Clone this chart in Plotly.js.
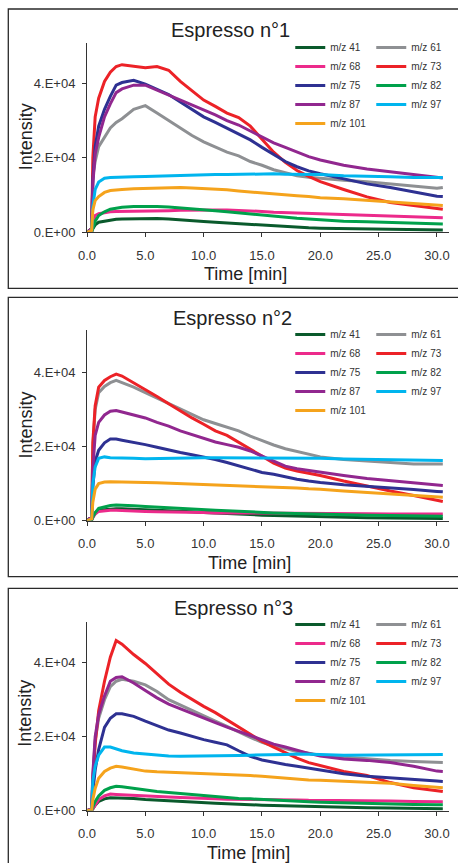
<!DOCTYPE html>
<html>
<head>
<meta charset="utf-8">
<script src="https://cdn.plot.ly/plotly-3.0.1.min.js"></script>
<style>html,body{margin:0;padding:0;background:#fff;}#chart{width:458px;height:863px;}</style>
</head>
<body>
<div id="chart"></div>
<script>
// ---------- data ----------
const time = [0, 0.4, 0.5, 0.7, 1, 1.5, 2, 2.5, 3, 4, 5, 6, 7, 8, 9, 10, 11, 12, 13, 14, 15, 16, 17, 18, 19, 20, 22, 24, 26, 28, 30, 30.5];
const seriesNames = ['m/z 41', 'm/z 61', 'm/z 68', 'm/z 73', 'm/z 75', 'm/z 82', 'm/z 87', 'm/z 97', 'm/z 101'];
const seriesColors = ['#0a5a2c', '#8e9093', '#ec2a8b', '#ec2227', '#2e3192', '#00a14b', '#91278f', '#00b5ee', '#f5a31c'];
const panelTitles = ['Espresso n°1', 'Espresso n°2', 'Espresso n°3'];
const xTickVals = [0, 5, 10, 15, 20, 25, 30];
const xTickText = ['0.0', '5.0', '10.0', '15.0', '20.0', '25.0', '30.0'];
const yTickVals = [0, 20000, 40000];
const yTickText = ['0.E+00', '2.E+04', '4.E+04'];
const xTitle = 'Time [min]';
const yTitle = 'Intensity';

// Espresso n°1
const e1_mz41  = [0, 200, 1000, 2000, 2700, 3000, 3300, 3500, 3600, 3700, 3700, 3700, 3600, 3300, 3100, 2900, 2700, 2500, 2300, 2100, 1900, 1700, 1600, 1400, 1200, 1100, 1000, 900, 800, 700, 600, 600];
const e1_mz61  = [0, 1000, 15000, 19000, 23000, 25500, 28000, 29500, 30500, 33000, 34000, 32000, 30000, 28000, 26000, 24300, 23000, 21500, 20500, 19000, 18000, 16800, 16000, 15200, 14800, 14500, 14000, 13600, 13000, 12400, 11800, 12000];
const e1_mz68  = [0, 200, 2000, 4500, 5000, 5300, 5500, 5600, 5600, 5700, 5700, 5800, 5800, 5900, 6000, 6000, 6000, 6000, 5900, 5800, 5600, 5400, 5300, 5200, 5100, 5000, 4800, 4600, 4300, 4100, 3900, 3900];
const e1_mz73  = [0, 1000, 20000, 31000, 36000, 40500, 43000, 44500, 45000, 44500, 44200, 44500, 43500, 40500, 38000, 35500, 33800, 32000, 30800, 28500, 25000, 21500, 18800, 16600, 15000, 13600, 11500, 9500, 8000, 7200, 6400, 6200];
const e1_mz75  = [0, 1000, 14000, 23000, 28500, 33000, 36500, 39500, 40200, 40800, 39800, 38500, 37000, 35000, 33000, 31000, 29500, 28000, 26500, 24800, 22800, 20800, 19000, 17600, 16500, 15700, 14300, 13000, 12000, 10800, 9700, 9600];
const e1_mz82  = [0, 200, 1000, 3000, 4500, 5500, 6200, 6500, 6700, 6900, 7000, 6900, 6800, 6600, 6300, 6000, 5800, 5500, 5200, 5000, 4700, 4400, 4100, 3800, 3600, 3400, 3000, 2800, 2600, 2400, 2200, 2200];
const e1_mz87  = [0, 1000, 13000, 21000, 25500, 31000, 34500, 37500, 38500, 39500, 39500, 38200, 36800, 35500, 34200, 33000, 31500, 30000, 28800, 27200, 25500, 24000, 22800, 21500, 20300, 19400, 18000, 17000, 16200, 15500, 14700, 14600];
const e1_mz97  = [0, 500, 7000, 11500, 13500, 14500, 14700, 14800, 14800, 14900, 15000, 15100, 15200, 15200, 15300, 15500, 15500, 15500, 15600, 15600, 15700, 15700, 15600, 15600, 15500, 15500, 15200, 15100, 14900, 14700, 14600, 14700];
const e1_mz101 = [0, 500, 6000, 8500, 9600, 10700, 11200, 11400, 11500, 11700, 11800, 11900, 12000, 12000, 11900, 11800, 11600, 11400, 11100, 10800, 10600, 10300, 10000, 9800, 9600, 9300, 9000, 8600, 8200, 7800, 7300, 7200];

// Espresso n°2
const e2_mz41  = [0, 200, 1000, 2000, 2800, 3000, 3200, 3200, 3200, 3100, 3000, 2900, 2700, 2600, 2400, 2200, 2100, 1900, 1800, 1600, 1500, 1400, 1300, 1200, 1100, 1000, 900, 800, 700, 700, 600, 600];
const e2_mz61  = [0, 1000, 20000, 30000, 34500, 36200, 37200, 37800, 37200, 36000, 34500, 33000, 31500, 30000, 28500, 27200, 26200, 25200, 24200, 22800, 21500, 20400, 19400, 18600, 17800, 17200, 16500, 16000, 15700, 15300, 15200, 15300];
const e2_mz68  = [0, 200, 800, 1800, 2500, 2700, 2800, 2800, 2700, 2600, 2500, 2400, 2400, 2300, 2200, 2200, 2100, 2100, 2000, 2000, 2000, 2000, 1900, 1900, 1900, 1900, 1900, 1900, 1800, 1800, 1800, 1800];
const e2_mz73  = [0, 1000, 21000, 31000, 36000, 37800, 38800, 39500, 39000, 37200, 35300, 33500, 31500, 29500, 27700, 26000, 24200, 23000, 21200, 19200, 17400, 15500, 14200, 13400, 12800, 12200, 10700, 9300, 8000, 6800, 5500, 5200];
const e2_mz75  = [0, 1000, 9000, 16000, 19000, 21000, 22000, 22000, 21700, 21200, 20500, 19800, 19000, 18400, 17800, 17200, 16500, 15700, 14800, 13800, 13000, 12500, 11800, 11200, 10700, 10300, 9700, 9200, 8800, 8400, 7900, 7800];
const e2_mz82  = [0, 200, 1000, 2200, 3300, 3800, 4100, 4200, 4200, 4000, 3800, 3600, 3500, 3300, 3200, 3000, 2800, 2700, 2500, 2400, 2200, 2100, 2000, 1900, 1800, 1800, 1700, 1500, 1400, 1300, 1200, 1200];
const e2_mz87  = [0, 1000, 14000, 23000, 26500, 28500, 29500, 29700, 29300, 28500, 27700, 26500, 25500, 24200, 23200, 22000, 21200, 20500, 19800, 18800, 17500, 16000, 14700, 14000, 13500, 13000, 12200, 11400, 10800, 10200, 9600, 9500];
const e2_mz97  = [0, 500, 10000, 14500, 16800, 17200, 17000, 16900, 16800, 16800, 16700, 16800, 16900, 16900, 17000, 17000, 17000, 17000, 17000, 17000, 17000, 16900, 16900, 16800, 16800, 16800, 16600, 16500, 16400, 16300, 16200, 16200];
const e2_mz101 = [0, 500, 5000, 8500, 10000, 10400, 10500, 10500, 10500, 10400, 10300, 10200, 10100, 10000, 9900, 9800, 9700, 9600, 9500, 9400, 9300, 9100, 9000, 8800, 8600, 8500, 8000, 7600, 7200, 6800, 6400, 6300];

// Espresso n°3
const e3_mz41  = [0, 100, 500, 1500, 2500, 3200, 3500, 3500, 3500, 3300, 3000, 2800, 2700, 2500, 2300, 2200, 2000, 1900, 1700, 1600, 1500, 1400, 1300, 1200, 1100, 1000, 900, 800, 700, 600, 500, 500];
const e3_mz61  = [0, 500, 9000, 19000, 25000, 30000, 33500, 35000, 35500, 35000, 34000, 32200, 30000, 28500, 27000, 25500, 24200, 22800, 21200, 19800, 18500, 17500, 16800, 16000, 15500, 15000, 14500, 14000, 13600, 13300, 13000, 13000];
const e3_mz68  = [0, 100, 500, 1500, 3000, 4000, 4500, 4400, 4300, 4200, 4000, 3800, 3700, 3600, 3400, 3300, 3200, 3100, 3100, 3000, 3000, 3000, 2900, 2900, 2800, 2800, 2700, 2700, 2600, 2500, 2400, 2400];
const e3_mz73  = [0, 500, 8000, 18000, 27000, 35000, 41500, 46000, 45000, 42200, 39800, 37000, 34200, 32000, 30000, 28200, 26500, 24500, 22500, 20500, 18700, 17200, 15600, 14200, 13000, 12200, 10600, 9500, 7600, 6200, 5300, 5200];
const e3_mz75  = [0, 300, 5000, 11000, 16500, 22500, 25000, 26200, 26200, 25500, 24200, 23000, 21800, 21000, 20000, 19200, 18500, 17800, 16200, 14700, 13700, 13000, 12500, 12000, 11500, 11000, 10000, 9300, 8800, 8500, 8000, 7900];
const e3_mz82  = [0, 100, 1000, 2500, 4000, 5500, 6200, 6600, 6500, 6000, 5500, 5200, 4900, 4600, 4300, 4000, 3800, 3500, 3300, 3200, 3000, 2900, 2700, 2600, 2400, 2300, 2100, 2000, 1800, 1700, 1600, 1600];
const e3_mz87  = [0, 500, 10000, 20000, 26000, 31000, 35000, 36000, 36200, 34500, 32500, 30500, 28800, 27500, 26200, 25000, 23800, 22600, 21400, 20200, 19200, 18000, 17200, 16300, 15500, 14800, 14000, 13600, 13000, 12000, 10700, 10600];
const e3_mz97  = [0, 300, 8000, 12000, 15000, 17200, 17200, 16700, 16200, 15600, 15300, 15000, 14800, 14700, 14700, 14700, 14700, 14800, 14900, 15000, 15000, 15100, 15200, 15300, 15300, 15200, 15000, 15000, 15000, 15000, 15200, 15200];
const e3_mz101 = [0, 200, 3000, 6000, 8800, 10600, 11500, 12000, 11800, 11200, 10700, 10500, 10400, 10300, 10200, 10000, 9900, 9700, 9600, 9500, 9300, 9000, 8700, 8500, 8300, 8200, 8000, 7800, 7400, 6800, 6200, 6200];

const panels = [
  [e1_mz41, e1_mz61, e1_mz68, e1_mz73, e1_mz75, e1_mz82, e1_mz87, e1_mz97, e1_mz101],
  [e2_mz41, e2_mz61, e2_mz68, e2_mz73, e2_mz75, e2_mz82, e2_mz87, e2_mz97, e2_mz101],
  [e3_mz41, e3_mz61, e3_mz68, e3_mz73, e3_mz75, e3_mz82, e3_mz87, e3_mz97, e3_mz101]
];

// ---------- layout geometry (pixels -> paper) ----------
const W = 458, H = 863, ML = 87, MR = 9;
const PW = W - ML - MR;
const px = v => (v - ML) / PW;
const py = v => (H - v) / H;

const FONT = 'Liberation Sans, Arial, sans-serif';
const INK = '#333333';

const yDomains = [[py(232.3), py(43.3)], [py(520.7), py(330)], [py(810.7), py(621.7)]];
const yRanges = [[0, 50740], [0, 51400], [0, 51080]];
const titlePos = [[230, 30], [232.5, 318], [233.8, 608.3]];
const xTitlePos = [[245.7, 274], [249.7, 563.3], [248.3, 853.3]];
const yTitlePos = [[25.5, 136.7], [25.5, 425], [25.5, 713.3]];
const legendTop = [33, 320, 610];
const boxes = [[9, 288.3], [297.3, 576.7], [588.3, 870]];

const traces = [];
const layout = {
  width: W, height: H,
  margin: {l: ML, r: MR, t: 0, b: 0, pad: 0, autoexpand: false},
  paper_bgcolor: '#ffffff', plot_bgcolor: '#ffffff',
  font: {family: FONT, color: INK},
  showlegend: true,
  hovermode: false,
  annotations: [],
  shapes: []
};

panels.forEach((series, p) => {
  const sfx = p === 0 ? '' : String(p + 1);
  series.forEach((vals, i) => {
    traces.push({
      type: 'scatter', mode: 'lines',
      x: time, y: vals,
      name: seriesNames[i],
      line: {color: seriesColors[i], width: 3},
      xaxis: 'x' + sfx, yaxis: 'y' + sfx,
      legend: 'legend' + sfx,
      showlegend: true
    });
  });
  layout['xaxis' + sfx] = {
    domain: [0, 1], anchor: 'y' + sfx, range: [0, 31.03],
    tickvals: xTickVals, ticktext: xTickText,
    ticks: 'outside', ticklen: 4, tickwidth: 1, tickcolor: INK,
    showline: true, linecolor: INK, linewidth: 1,
    showgrid: false, zeroline: false,
    tickfont: {size: 13, color: INK, family: FONT},
    ticklabelstandoff: 7, fixedrange: true
  };
  layout['yaxis' + sfx] = {
    domain: yDomains[p], anchor: 'x' + sfx, range: yRanges[p],
    tickvals: yTickVals, ticktext: yTickText,
    ticks: 'outside', ticklen: 4, tickwidth: 1, tickcolor: INK,
    showline: true, linecolor: INK, linewidth: 1,
    showgrid: false, zeroline: false,
    tickfont: {size: 13, color: INK, family: FONT},
    ticklabelstandoff: 4, fixedrange: true
  };
  layout['legend' + sfx] = {
    orientation: 'h', x: 1.009, xanchor: 'right', y: py(legendTop[p]), yanchor: 'top',
    entrywidth: 36, entrywidthmode: 'pixels', itemwidth: 30,
    font: {size: 10, color: INK, family: FONT},
    bgcolor: 'rgba(0,0,0,0)', borderwidth: 0, traceorder: 'normal'
  };
  layout.annotations.push({
    text: panelTitles[p], xref: 'paper', yref: 'paper',
    x: px(titlePos[p][0]), y: py(titlePos[p][1]), xanchor: 'center', yanchor: 'middle',
    showarrow: false, font: {size: 20, color: '#222', family: FONT}
  });
  layout.annotations.push({
    text: xTitle, xref: 'paper', yref: 'paper',
    x: px(xTitlePos[p][0]), y: py(xTitlePos[p][1]), xanchor: 'center', yanchor: 'middle',
    showarrow: false, font: {size: 18, color: '#222', family: FONT}
  });
  layout.annotations.push({
    text: yTitle, xref: 'paper', yref: 'paper', textangle: -90,
    x: px(yTitlePos[p][0]), y: py(yTitlePos[p][1]), xanchor: 'center', yanchor: 'middle',
    showarrow: false, font: {size: 18, color: '#222', family: FONT}
  });
  layout.shapes.push({
    type: 'rect', xref: 'paper', yref: 'paper',
    x0: px(8.3), x1: px(470), y0: py(boxes[p][1]), y1: py(boxes[p][0]),
    line: {color: '#2a2a2a', width: 1.3}, fillcolor: 'rgba(0,0,0,0)', layer: 'below'
  });
});

Plotly.newPlot('chart', traces, layout, {displayModeBar: false, staticPlot: true});
</script>
</body>
</html>
